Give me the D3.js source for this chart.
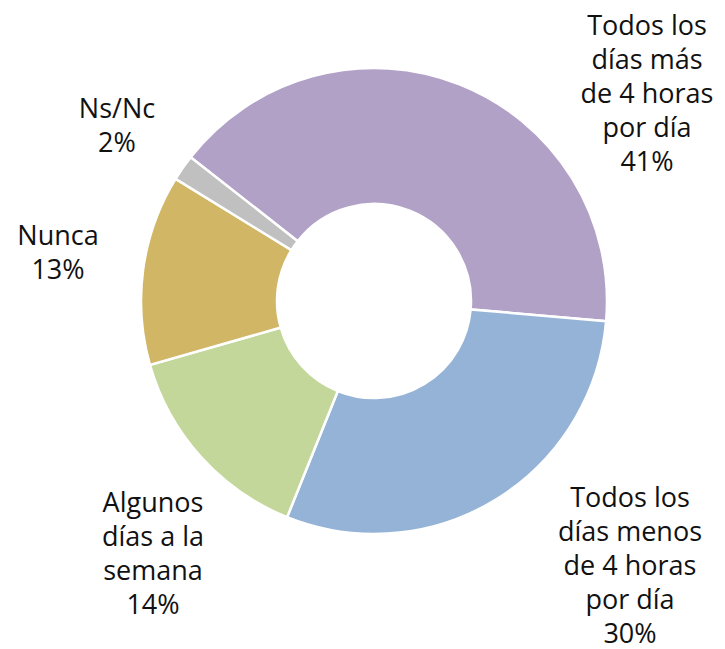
<!DOCTYPE html>
<html>
<head>
<meta charset="utf-8">
<script src="https://cdn.jsdelivr.net/npm/d3@7"></script>
<style>
  body { margin: 0; background: #fff; }
  text { font-family: "Open Sans", "Noto Sans", sans-serif; font-size: 27px; fill: #111; }
</style>
</head>
<body>
<div id="chart"></div>
<script>
// categories, in drawing order (clockwise)
var categories = ["Todos los días más de 4 horas por día", "Todos los días menos de 4 horas por día",
  "Algunos días a la semana", "Nunca", "Ns/Nc"];
// share of each slice
var values = [40.8, 29.7, 14.5, 13.2, 1.8];
// the printed percentages
var pctLabels = ["41%", "30%", "14%", "13%", "2%"];
// label text split into lines
var labelLines = [
  ["Todos los", "días más", "de 4 horas", "por día"],
  ["Todos los", "días menos", "de 4 horas", "por día"],
  ["Algunos", "días a la", "semana"],
  ["Nunca"],
  ["Ns/Nc"]
];
var colors = ["#b2a1c7", "#95b3d7", "#c4d79b", "#d1b666", "#c0c0c0"];

var svgWidth = 725, svgHeight = 649;
var cx = 374, cy = 301;
var outerR = 233, innerR = 97;

var svg = d3.select("#chart").append("svg")
  .attr("width", svgWidth)
  .attr("height", svgHeight);

var chartGroup = svg.append("g")
  .attr("transform", `translate(${cx}, ${cy})`);

var startDeg = -51.9;
var pie = d3.pie()
  .sort(null)
  .startAngle(startDeg * Math.PI / 180)
  .endAngle((startDeg + 360) * Math.PI / 180);

var arc = d3.arc().innerRadius(innerR).outerRadius(outerR);

chartGroup.selectAll("path")
  .data(pie(values))
  .enter()
  .append("path")
  .attr("d", arc)
  .attr("fill", (d, i) => colors[i])
  .attr("stroke", "#fff")
  .attr("stroke-width", 2.5);

// label anchors (centre x, first baseline) and line spacing
var labelPos = [[647, 35], [630, 507], [153, 512], [58, 245], [117, 118]];
var lineH = 34;

var labels = svg.selectAll(".lbl")
  .data(categories)
  .enter()
  .append("text")
  .attr("class", "lbl")
  .attr("text-anchor", "middle")
  .attr("x", (d, i) => labelPos[i][0])
  .attr("y", (d, i) => labelPos[i][1]);

labels.each(function(d, i) {
  var t = d3.select(this);
  labelLines[i].concat([pctLabels[i]]).forEach(function(line, j) {
    t.append("tspan")
      .attr("x", labelPos[i][0])
      .attr("y", labelPos[i][1] + j * lineH)
      .text(line);
  });
});
</script>
</body>
</html>
